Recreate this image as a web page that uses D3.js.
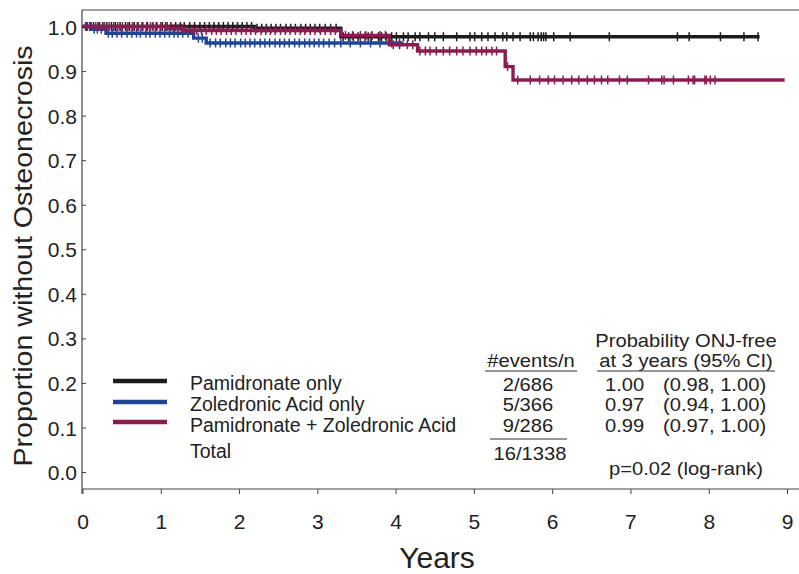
<!DOCTYPE html>
<html><head><meta charset="utf-8">
<script src="https://cdn.jsdelivr.net/npm/d3@7"></script>
<style>body{margin:0;background:#fff}svg{display:block}text{font-family:"Liberation Sans",Arial,sans-serif;fill:#222}</style>
</head><body><svg id="c" width="799" height="574"></svg>
<script>
// ---- data ----
const groups = ["Pamidronate only","Zoledronic Acid only","Pamidronate + Zoledronic Acid"];
const colors = ["#1c1c1c","#1f4594","#8c1c50"];
// step curves: event times and survival after each step
const pamTimes = [0, 2.2, 3.3];
const pamSurv  = [1.0, 0.996, 0.977];
const pamEnd = 8.65;
const zolTimes = [0, 0.12, 0.3, 1.42, 1.58];
const zolSurv  = [1.0, 0.994, 0.985, 0.974, 0.963];
const zolEnd = 4.1;
const bothTimes = [0, 1.1, 1.3, 3.3, 3.92, 4.28, 5.4, 5.5];
const bothSurv  = [1.0, 0.996, 0.991, 0.98, 0.959, 0.945, 0.91, 0.88];
const bothEnd = 8.97;
// censoring times
const pamCens = [0.05,0.1,0.14,0.2,0.26,0.31,0.37,0.42,0.48,0.55,0.6,0.66,0.71,0.77,0.83,0.9,0.95,1.02,1.08,1.13,1.19,1.25,1.3,1.37,1.43,1.5,1.56,1.62,1.68,1.74,1.8,1.86,1.92,1.98,2.04,2.1,2.16,2.23,2.29,2.35,2.41,2.47,2.53,2.6,2.66,2.72,2.79,2.85,2.91,2.97,3.03,3.1,3.17,3.24,3.33,3.4,3.46,3.52,3.61,3.65,3.69,3.78,3.82,3.88,3.95,4.01,4.1,4.16,4.25,4.31,4.42,4.5,4.61,4.78,4.95,5.01,5.1,5.18,5.27,5.37,5.42,5.5,5.59,5.72,5.76,5.82,5.86,5.89,5.92,6.02,6.23,6.73,7.6,7.75,8.15,8.45,8.63];
const zolCens = [0.04,0.09,0.15,0.19,0.24,0.33,0.38,0.44,0.5,0.57,0.63,0.69,0.74,0.81,0.86,0.93,0.99,1.05,1.11,1.17,1.22,1.28,1.35,1.48,1.53,1.63,1.7,1.76,1.83,1.89,1.95,2.02,2.08,2.14,2.2,2.27,2.33,2.39,2.46,2.52,2.58,2.64,2.71,2.77,2.84,2.9,2.96,3.02,3.08,3.15,3.22,3.3,3.42,3.55,3.68,3.8,3.95,4.05];
const bothCens = [0.06,0.11,0.17,0.22,0.28,0.34,0.4,0.45,0.51,0.58,0.64,0.7,0.76,0.82,0.87,0.94,1.0,1.06,1.16,1.22,1.27,1.34,1.4,1.46,1.52,1.58,1.65,1.71,1.77,1.84,1.9,1.96,2.03,2.09,2.15,2.21,2.28,2.34,2.4,2.46,2.53,2.59,2.65,2.72,2.78,2.84,2.91,2.97,3.04,3.1,3.17,3.23,3.36,3.45,3.55,3.62,3.7,3.8,3.87,3.97,4.05,4.15,4.22,4.31,4.38,4.44,4.52,4.61,4.69,4.78,4.86,4.95,5.03,5.1,5.16,5.23,5.29,5.43,5.56,5.72,5.84,5.95,6.03,6.14,6.25,6.34,6.45,6.54,6.63,6.71,6.86,6.96,7.23,7.4,7.43,7.55,7.74,7.8,7.82,7.95,7.97,8.02,8.08];
const xTicks = [0,1,2,3,4,5,6,7,8,9];
const yTicks = [0,0.1,0.2,0.3,0.4,0.5,0.6,0.7,0.8,0.9,1.0];
const eventsN = ["2/686","5/366","9/286"];
const eventsTotal = "16/1338";
const probs = ["1.00","0.97","0.99"];
const cis = ["(0.98, 1.00)","(0.94, 1.00)","(0.97, 1.00)"];

// ---- chart ----
const svg = d3.select("#c");
const x = d3.scaleLinear().domain([0,9]).range([82.5,787]);
const y = d3.scaleLinear().domain([0,1]).range([472,26.5]);
const F = "Liberation Sans, Arial, sans-serif";

// frame
svg.append("line").attr("x1",82).attr("x2",799).attr("y1",10).attr("y2",10).attr("stroke","#444").attr("stroke-width",1.2);
svg.append("line").attr("x1",82).attr("x2",82).attr("y1",10).attr("y2",494).attr("stroke","#444").attr("stroke-width",1.2);
svg.append("line").attr("x1",82).attr("x2",799).attr("y1",489).attr("y2",489).attr("stroke","#444").attr("stroke-width",1.2);

// y axis
const ya = svg.append("g").attr("transform","translate(82,0)")
  .call(d3.axisRight(y).tickValues(yTicks).tickFormat(d3.format(".1f")).tickSize(4));
ya.select(".domain").remove();
ya.selectAll("line").attr("stroke","#444");
ya.selectAll("text").attr("font-size",21).attr("text-anchor","end").attr("x",-5).attr("dy","0.36em").style("fill","#222").attr("font-family",F);

// x axis
const xa = svg.append("g").attr("transform","translate(0,489)")
  .call(d3.axisBottom(x).tickValues(xTicks).tickFormat(d3.format("d")).tickSize(5).tickPadding(20));
xa.select(".domain").remove();
xa.selectAll("line").attr("stroke","#444");
xa.selectAll("text").attr("font-size",21).style("fill","#222").attr("font-family",F);

// titles
svg.append("text").attr("x",437).attr("y",568).attr("text-anchor","middle").attr("font-size",30).text("Years");
svg.append("text").attr("transform","translate(32,256) rotate(-90) scale(1.1,1)").attr("text-anchor","middle").attr("font-size",26).text("Proportion without Osteonecrosis");

// curves
function stepPts(t,s,end){
  const pts=[];
  for(let i=0;i<t.length;i++){
    if(i>0) pts.push([t[i],s[i-1]]);
    pts.push([t[i],s[i]]);
  }
  pts.push([end,s[s.length-1]]);
  return pts;
}
function survAt(t,s,tt){let v=s[0];for(let i=0;i<t.length;i++){if(t[i]<=tt)v=s[i];}return v;}
const series=[
  {t:pamTimes,s:pamSurv,end:pamEnd,c:pamCens,col:colors[0]},
  {t:zolTimes,s:zolSurv,end:zolEnd,c:zolCens,col:colors[1]},
  {t:bothTimes,s:bothSurv,end:bothEnd,c:bothCens,col:colors[2]}
];
const line=d3.line().x(d=>x(d[0])).y(d=>y(d[1]));
series.forEach(sr=>{
  const g=svg.append("g");
  g.append("path").attr("d",line(stepPts(sr.t,sr.s,sr.end))).attr("fill","none").attr("stroke",sr.col).attr("stroke-width",3.4);
  g.selectAll("line").data(sr.c).join("line")
    .attr("x1",d=>x(d)).attr("x2",d=>x(d))
    .attr("y1",d=>y(survAt(sr.t,sr.s,d))-4.5).attr("y2",d=>y(survAt(sr.t,sr.s,d))+4.5)
    .attr("stroke",sr.col).attr("stroke-width",1.5);
});

// legend
const legY=[381,402,422];
groups.forEach((gname,i)=>{
  svg.append("line").attr("x1",113).attr("x2",167).attr("y1",legY[i]).attr("y2",legY[i]).attr("stroke",colors[i]).attr("stroke-width",4.5);
  svg.append("text").attr("x",190).attr("y",[390,411,432][i]).attr("font-size",19.5).text(gname);
});
svg.append("text").attr("x",190).attr("y",458).attr("font-size",19.5).text("Total");

// table
function hText(xx,yy,str,anchor){
  return svg.append("text").attr("transform",`translate(${xx},${yy}) scale(1.12,1)`).attr("text-anchor",anchor||"start").attr("font-size",18).text(str);
}
hText(531,367,"#events/n","middle");
svg.append("line").attr("x1",485).attr("x2",577).attr("y1",371).attr("y2",371).attr("stroke","#333").attr("stroke-width",1.2);
hText(686,347,"Probability ONJ-free","middle");
hText(686,367,"at 3 years (95% CI)","middle");
svg.append("line").attr("x1",597).attr("x2",775).attr("y1",371).attr("y2",371).attr("stroke","#333").attr("stroke-width",1.2);
const rowY=[391,411,432];
eventsN.forEach((e,i)=>{
  hText(528,rowY[i],e,"middle");
  hText(605,rowY[i],probs[i]);
  hText(663,rowY[i],cis[i]);
});
svg.append("line").attr("x1",490).attr("x2",567).attr("y1",439).attr("y2",439).attr("stroke","#333").attr("stroke-width",1.2);
hText(530,460,eventsTotal,"middle");
hText(686,475,"p=0.02 (log-rank)","middle");
</script></body></html>
